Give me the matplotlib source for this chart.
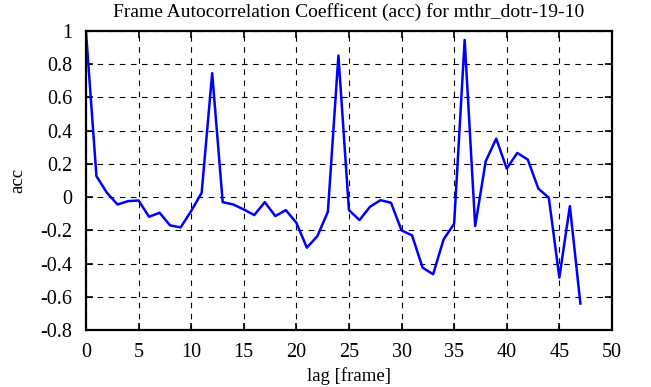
import numpy as np
import matplotlib
matplotlib.use("Agg")
import matplotlib.pyplot as plt

plt.rcParams['font.family'] = ['Liberation Serif', 'DejaVu Serif']

# autocorrelation per lag
lags = list(range(48))
acc = [1.0, 0.126, 0.026, -0.044, -0.024, -0.02, -0.118, -0.094, -0.17, -0.182,
       -0.084, 0.026, 0.746, -0.03, -0.044, -0.074, -0.108, -0.03, -0.114, -0.078,
       -0.154, -0.304, -0.234, -0.088, 0.852, -0.078, -0.138, -0.058, -0.018, -0.034,
       -0.2, -0.23, -0.424, -0.464, -0.254, -0.16, 0.946, -0.174, 0.216, 0.352,
       0.172, 0.266, 0.226, 0.052, -0.004, -0.484, -0.054, -0.64]

fig = plt.figure(figsize=(6.51, 3.87), dpi=100)
ax = fig.add_axes([0.132, 0.147, 0.808, 0.773])

ax.plot(lags, acc, color='#0000ff', linewidth=1.8)

ax.set_xlim(0, 50)
ax.set_ylim(-0.8, 1)
ax.set_xticks(np.arange(0, 51, 5))
ax.set_yticks(np.round(np.arange(-0.8, 1.01, 0.2), 1))
ax.set_yticklabels(['-0.8', '-0.6', '-0.4', '-0.2', '0', '0.2', '0.4', '0.6', '0.8', '1'])
ax.grid(True, color='black', linestyle=(0, (5, 5)), linewidth=0.8)
ax.tick_params(direction='in', top=True, right=True, labelsize=14.5, length=5, width=1.2)
ax.tick_params(axis='y', pad=10)
ax.tick_params(axis='x', pad=9)
for s in ax.spines.values():
    s.set_linewidth(1.6)

ax.set_title('Frame Autocorrelation Coefficent (acc) for mthr_dotr-19-10', fontsize=14, pad=10)
ax.set_xlabel('lag [frame]', fontsize=13.5, labelpad=4)
ax.set_ylabel('acc', fontsize=13.5, labelpad=10)

fig.savefig('out.png', dpi=100)
